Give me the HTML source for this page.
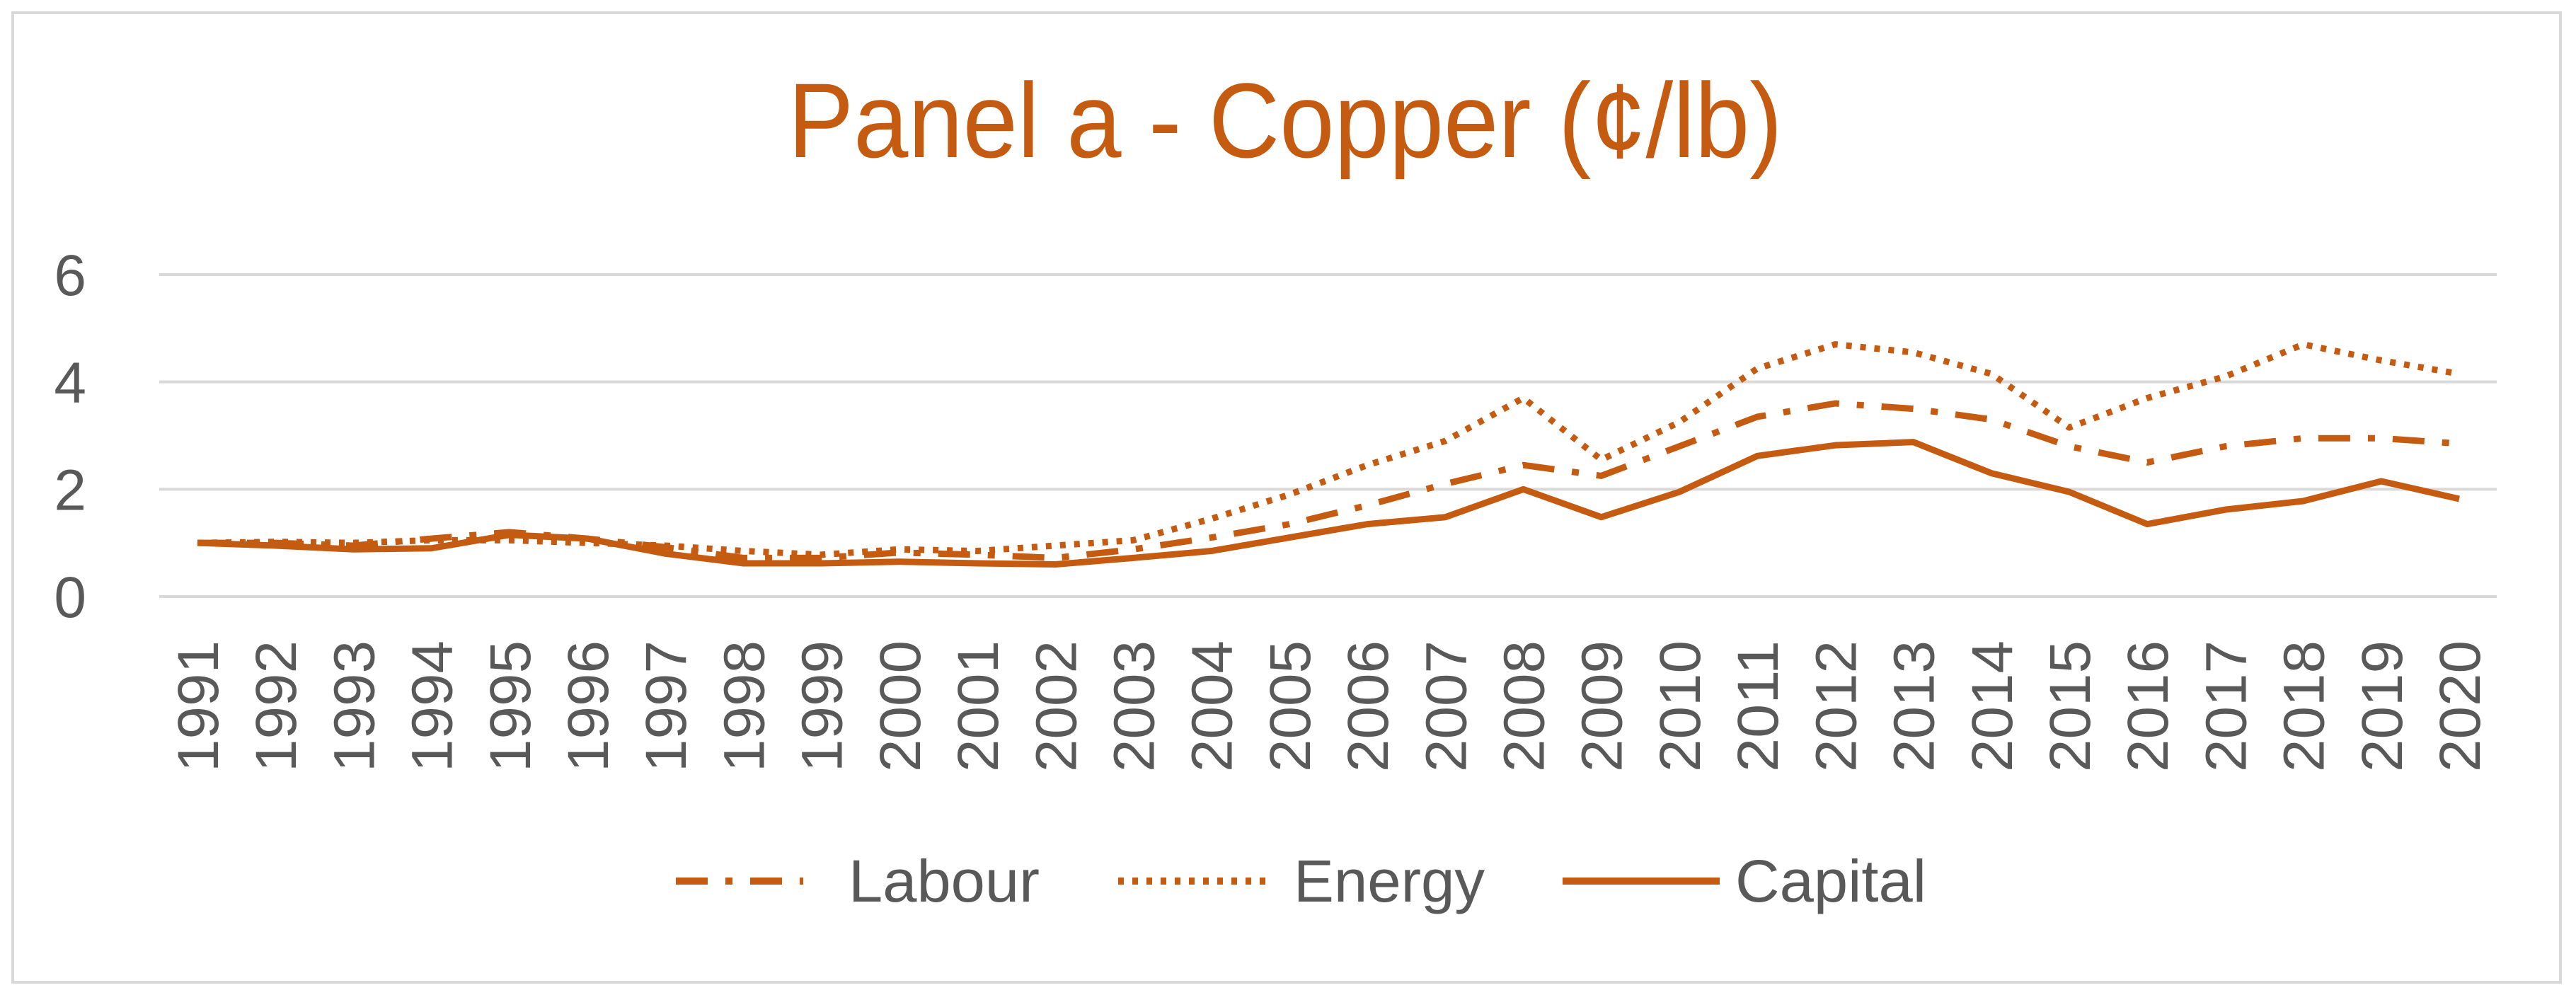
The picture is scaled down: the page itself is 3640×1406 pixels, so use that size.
<!DOCTYPE html>
<html><head><meta charset="utf-8"><style>
html,body{margin:0;padding:0;background:#fff}
svg{display:block}
text{font-family:"Liberation Sans",sans-serif}
</style></head><body>
<svg id="chart" width="3640" height="1406" viewBox="0 0 3640 1406">
<rect x="18" y="18" width="3600" height="1370" fill="#fff" stroke="#d9d9d9" stroke-width="4"/>
<text x="1816" y="222" text-anchor="middle" font-size="150" fill="#C55A11" textLength="1405" lengthAdjust="spacingAndGlyphs">Panel a - Copper (¢/lb)</text>
<g id="grid"></g><g id="ylab"></g><g id="xlab"></g><g id="lines"></g>
<g>
<g>
<line x1="955" y1="1245" x2="1135" y2="1245" stroke="#C55A11" stroke-width="10" stroke-dasharray="45,25,10,25"/>
<text x="1199" y="1274" font-size="84" fill="#595959" textLength="270" lengthAdjust="spacingAndGlyphs">Labour</text></g>
<g>
<line x1="1580" y1="1245" x2="1795" y2="1245" stroke="#C55A11" stroke-width="10" stroke-dasharray="8,12"/>
<text x="1828" y="1274" font-size="84" fill="#595959" textLength="270" lengthAdjust="spacingAndGlyphs">Energy</text></g>
<g>
<line x1="2208" y1="1245" x2="2430" y2="1245" stroke="#C55A11" stroke-width="10"/>
<text x="2452" y="1274" font-size="84" fill="#595959" textLength="270" lengthAdjust="spacingAndGlyphs">Capital</text></g>
</g>
</svg>
<script>
const years=[1991,1992,1993,1994,1995,1996,1997,1998,1999,2000,2001,2002,2003,2004,2005,2006,2007,2008,2009,2010,2011,2012,2013,2014,2015,2016,2017,2018,2019,2020];
const capital=[1.0,0.95,0.88,0.9,1.15,1.08,0.8,0.62,0.62,0.65,0.62,0.6,0.72,0.85,1.1,1.35,1.48,2.0,1.48,1.95,2.62,2.82,2.88,2.3,1.95,1.35,1.62,1.78,2.15,1.82];
const labour=[1.0,1.0,0.95,1.08,1.2,1.08,0.92,0.72,0.72,0.82,0.78,0.72,0.88,1.1,1.35,1.7,2.1,2.45,2.25,2.8,3.35,3.6,3.5,3.3,2.8,2.5,2.8,2.95,2.95,2.85];
const energy=[1.0,1.02,1.0,1.05,1.05,1.0,0.95,0.85,0.78,0.88,0.85,0.95,1.05,1.45,1.9,2.45,2.9,3.7,2.55,3.25,4.25,4.7,4.55,4.15,3.15,3.7,4.1,4.7,4.4,4.15];
const yTicks=[0,2,4,6];
const NS="http://www.w3.org/2000/svg";
const x=i=>279+i*(3475-279)/(years.length-1);
const y=v=>843-v*(843-388)/6;
function mk(tag,attrs,parent){const e=document.createElementNS(NS,tag);for(const k in attrs)e.setAttribute(k,attrs[k]);parent.appendChild(e);return e;}
const grid=document.getElementById('grid'),ylab=document.getElementById('ylab'),xlab=document.getElementById('xlab'),lines=document.getElementById('lines');
yTicks.forEach(t=>{
  const l=mk('line',{x1:225,x2:3528,y1:y(t),y2:y(t),stroke:'#d9d9d9','stroke-width':4},grid);
  
  
  const tx=mk('text',{x:122,y:y(t)+29,'text-anchor':'end','font-size':82,fill:'#595959'},ylab);
  tx.textContent=t;
  
  
});
years.forEach((yr,i)=>{
  const tx=mk('text',{transform:`translate(${x(i)+29},905) rotate(-90)`,'text-anchor':'end','font-size':82,fill:'#595959',textLength:186,lengthAdjust:'spacingAndGlyphs'},xlab);
  tx.textContent=yr;
  
  
});
function series(vals,dash,name){
  const p=mk('polyline',{points:vals.map((v,i)=>x(i)+','+y(v)).join(' '),fill:'none',stroke:'#C55A11','stroke-width':9,'stroke-linejoin':'round'},lines);
  if(dash)p.setAttribute('stroke-dasharray',dash);
  
  
}
series(labour,'45,25,10,25','labour-line');
series(energy,'8,12','energy-line');
series(capital,null,'capital-line');
</script>
</body></html>
